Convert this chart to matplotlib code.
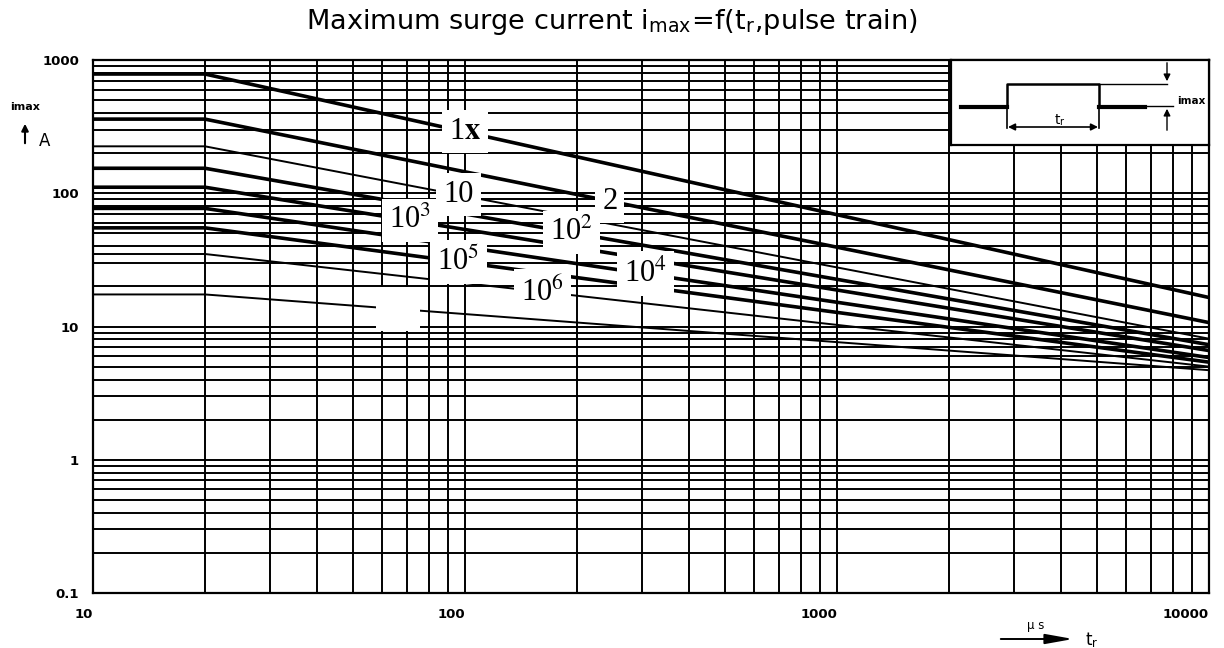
import matplotlib.pyplot as plt
from matplotlib.ticker import NullFormatter
import numpy as np

plt.rcParams['mathtext.fontset'] = 'stix'

# pulse duration axis: flat up to the knee, then straight (log-log) to the end
t_knee = 20
t_points = [10, t_knee, 10000]

pulse_labels = ['1$\\mathbf{x}$', '2', '10', '10$^{2}$', '10$^{3}$',
                '10$^{4}$', '10$^{5}$', '10$^{6}$', '']
i_start = [785, 360, 225, 154, 111, 77, 55, 35, 17.4]   # A, for t <= 20 us
i_end = [16.5, 10.7, 8.1, 7.3, 6.6, 5.85, 5.4, 5.0, 4.7]  # A, at t = 10000 us
thick = [True, True, False, True, True, True, True, False, False]
label_t = [100, 245, 96, 193, 71, 305, 96, 162, 66]

x_ticks = [10, 100, 1000, 10000]
x_ticklabels = ['10', '100', '1000', '10000']
y_ticks = [0.1, 1, 10, 100, 1000]
y_ticklabels = ['0.1', '1', '10', '100', '1000']

W, H = 1224, 648
fig = plt.figure(figsize=(W / 100, H / 100), dpi=100)
ax = fig.add_axes([93 / W, 1 - 593 / H, 1116 / W, 533 / H])
ax.set_xscale('log')
ax.set_yscale('log')
ax.set_xlim(10, 10000)
ax.set_ylim(0.1, 1000)

ax.grid(True, which='both', color='black', lw=1.4)
ax.set_axisbelow(True)
for s in ax.spines.values():
    s.set_linewidth(1.6)
ax.tick_params(which='both', length=0)
ax.xaxis.set_minor_formatter(NullFormatter())
ax.yaxis.set_minor_formatter(NullFormatter())
ax.set_xticks(x_ticks, labels=x_ticklabels, ha='right', fontsize=9.5, fontweight='bold')
ax.set_yticks(y_ticks, labels=y_ticklabels, fontsize=9.5, fontweight='bold')
ax.tick_params(axis='x', pad=11)
ax.tick_params(axis='y', pad=10)


def curve_at(t, s, e):
    f = (np.log10(t) - np.log10(t_knee)) / (np.log10(10000) - np.log10(t_knee))
    return 10 ** (np.log10(s) + f * (np.log10(e) - np.log10(s)))


for lbl, s, e, th, lt in zip(pulse_labels, i_start, i_end, thick, label_t):
    ax.plot(t_points, [s, s, e], color='black', lw=2.6 if th else 1.4,
            solid_capstyle='butt', zorder=3)
    ax.text(lt, curve_at(lt, s, e), lbl if lbl else '10',
            color='black' if lbl else 'white',
            family='Liberation Serif', fontsize=22, ha='center', va='center',
            zorder=5, bbox=dict(facecolor='white', edgecolor='none', pad=5))

# title
fig.text(0.5, 1 - 22 / H,
         'Maximum surge current i$_{\\mathregular{max}}$=f(t$_{\\mathregular{r}}$,pulse train)',
         ha='center', va='center', fontsize=19.5)

# y axis label
fig.text(25 / W, 1 - 107 / H, 'imax', fontsize=8, fontweight='bold', ha='center', va='center')
ax.annotate('', xy=(25 / W, 1 - 121 / H), xytext=(25 / W, 1 - 146 / H),
            xycoords='figure fraction', textcoords='figure fraction',
            arrowprops=dict(arrowstyle='-|>', color='black', lw=1.5, mutation_scale=10))
fig.text(45 / W, 1 - 141 / H, 'A', fontsize=12, ha='center', va='center')

# x axis label
fig.text(1036 / W, 1 - 626 / H, 'μ s', fontsize=8.5, ha='center', va='center')
ax.annotate('', xy=(1076 / W, 1 - 639 / H), xytext=(998 / W, 1 - 639 / H),
            xycoords='figure fraction', textcoords='figure fraction',
            arrowprops=dict(arrowstyle='-|>,head_length=1.4,head_width=0.25',
                            color='black', lw=1.4, mutation_scale=12))
fig.text(1092 / W, 1 - 640 / H, 't$_\\mathregular{r}$', fontsize=12,
         ha='center', va='center')

# inset sketch of the pulse
ins = fig.add_axes([951 / W, 1 - 145 / H, 258 / W, 85 / H])
ins.set_xlim(0, 258)
ins.set_ylim(85, 0)
ins.set_xticks([])
ins.set_yticks([])
for s in ins.spines.values():
    s.set_linewidth(1.6)
ins.plot([10, 56], [47, 47], color='black', lw=3)
ins.plot([56, 56, 148, 148], [47, 24, 24, 47], color='black', lw=1.8)
ins.plot([148, 194], [47, 47], color='black', lw=3)
ins.plot([148, 216], [24, 24], color='black', lw=1)
ins.plot([194, 222], [46, 46], color='black', lw=1)
ins.plot([56, 56], [47, 68], color='black', lw=1.2)
ins.plot([148, 148], [47, 68], color='black', lw=1.2)
ins.annotate('', xy=(216, 24), xytext=(216, 0),
             arrowprops=dict(arrowstyle='-|>', color='black', lw=1, mutation_scale=10))
ins.annotate('', xy=(216, 46), xytext=(216, 73),
             arrowprops=dict(arrowstyle='-|>', color='black', lw=1, mutation_scale=10))
ins.annotate('', xy=(57, 67), xytext=(147, 67),
             arrowprops=dict(arrowstyle='<|-|>', color='black', lw=1.2, mutation_scale=10,
                             shrinkA=0, shrinkB=0))
ins.text(240, 41, 'imax', fontsize=7.5, fontweight='bold', ha='center', va='center')
ins.text(109, 60, 't$_\\mathregular{r}$', fontsize=10, ha='center', va='center')

fig.savefig('out.png', dpi=100)
